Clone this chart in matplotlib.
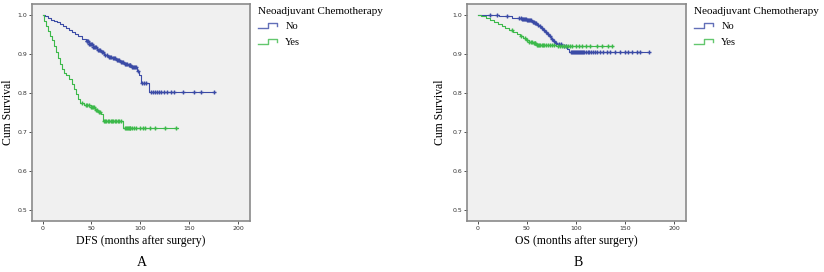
import numpy as np
import matplotlib.pyplot as plt
from matplotlib.lines import Line2D
from matplotlib.legend_handler import HandlerBase

# Kaplan-Meier step values
dfs_no_t = [0, 3, 6, 9, 12, 15, 18, 21, 24, 27, 30, 33, 36, 40, 44, 48, 52, 56, 60, 63,
            67, 71, 75, 79, 83, 87, 91, 97, 99, 101, 109, 176]
dfs_no_s = [1.0, 0.996, 0.992, 0.988, 0.985, 0.981, 0.976, 0.971, 0.966, 0.961, 0.956,
            0.951, 0.945, 0.938, 0.932, 0.925, 0.918, 0.911, 0.904, 0.897, 0.893, 0.889,
            0.884, 0.879, 0.875, 0.871, 0.867, 0.856, 0.845, 0.825, 0.802, 0.802]
dfs_no_cens = [45, 46, 47, 48, 49, 50, 51, 52, 53, 54, 55, 57, 58, 59, 61, 62, 64, 66, 68,
               69, 70, 72, 73, 74, 76, 77, 78, 80, 81, 82, 84, 85, 86, 88, 89, 90, 92, 93,
               94, 95, 96, 98, 102, 104, 106, 111, 113, 115, 117, 119, 121, 124, 127, 131,
               135, 144, 155, 162, 175]

dfs_yes_t = [0, 2, 4, 6, 8, 10, 12, 14, 16, 18, 20, 22, 24, 27, 30, 32, 34, 36, 38, 42,
             50, 54, 57, 60, 62, 82, 139]
dfs_yes_s = [1.0, 0.985, 0.972, 0.958, 0.946, 0.935, 0.921, 0.906, 0.890, 0.875, 0.862,
             0.851, 0.845, 0.836, 0.824, 0.810, 0.797, 0.785, 0.774, 0.768, 0.763, 0.757,
             0.751, 0.745, 0.729, 0.711, 0.711]
dfs_yes_cens = [40, 44, 46, 48, 50, 51, 52, 53, 55, 56, 58, 59, 63, 64, 65, 67, 68, 70, 71,
                72, 74, 75, 77, 78, 80, 84, 85, 86, 87, 88, 89, 90, 92, 94, 96, 100, 103,
                105, 110, 115, 125, 137]

os_no_t = [0, 22, 35, 45, 50, 55, 58, 61, 63, 65, 67, 69, 71, 73, 75, 77, 79, 81, 86, 91,
           93, 175]
os_no_s = [1.0, 0.996, 0.992, 0.989, 0.986, 0.983, 0.979, 0.975, 0.971, 0.966, 0.961,
           0.956, 0.951, 0.945, 0.939, 0.934, 0.929, 0.925, 0.920, 0.913, 0.905, 0.905]
os_no_cens = [13, 20, 30, 42, 44, 45, 46, 47, 48, 49, 50, 51, 52, 53, 54, 56, 57, 59, 60,
              62, 64, 66, 68, 70, 72, 74, 76, 78, 80, 83, 85, 88, 90, 95, 96, 97, 98, 99,
              100, 101, 102, 103, 104, 105, 106, 107, 108, 110, 112, 114, 116, 118, 120,
              122, 125, 128, 132, 135, 140, 145, 150, 153, 157, 162, 165, 175]

os_yes_t = [0, 4, 9, 13, 17, 21, 25, 28, 32, 36, 40, 43, 46, 49, 52, 56, 60, 65, 80, 137]
os_yes_s = [1.0, 0.997, 0.992, 0.988, 0.983, 0.978, 0.972, 0.966, 0.961, 0.956, 0.951,
            0.946, 0.940, 0.935, 0.931, 0.927, 0.924, 0.922, 0.920, 0.920]
os_yes_cens = [35, 44, 48, 50, 52, 54, 55, 57, 58, 59, 61, 62, 63, 64, 66, 67, 68, 70, 72,
               74, 76, 78, 82, 84, 86, 88, 90, 92, 94, 96, 100, 103, 106, 110, 115, 122,
               127, 133, 137]

groups = ['No', 'Yes']
blue = '#3b4ba6'
green = '#3cb94a'
serif = 'Liberation Serif'


class StepHandler(HandlerBase):
    # legend icon drawn as a little survival step
    def create_artists(self, legend, orig_handle, xd, yd, width, height, fontsize, trans):
        x = np.array([0, 0.45, 0.45, 0.9, 0.9]) * width - xd
        y = np.array([0.15, 0.15, 0.85, 0.85, 0.45]) * height - yd
        ln = Line2D(x, y, color=orig_handle.get_color(), lw=1.0, alpha=0.8,
                    transform=trans)
        return [ln]


def km_panel(ax, curves, xlabel, ylab_x):
    for (t, s, cens, col) in curves:
        ax.step(t, s, where='post', color=col, lw=0.8)
        idx = np.searchsorted(t, cens, side='right') - 1
        cy = np.array(s)[idx]
        ax.plot(cens, cy, '+', color=col, ms=3.4, mew=1.0)
    ax.set_facecolor('#f0f0f0')
    ax.set_xlim(-10.8, 212.3)
    ax.set_ylim(0.472, 1.028)
    ax.set_xticks([0, 50, 100, 150, 200])
    ax.set_yticks([0.5, 0.6, 0.7, 0.8, 0.9, 1.0])
    ax.set_yticklabels(['0.5', '0.6', '0.7', '0.8', '0.9', '1.0'])
    ax.tick_params(labelsize=4.5, length=2, width=0.6, pad=1.5, colors='#333333')
    for sp in ax.spines.values():
        sp.set_color('#8a8a8a')
        sp.set_linewidth(1.2)
    ax.set_xlabel(xlabel, family=serif, fontsize=8.5, labelpad=3)
    ax.set_ylabel('Cum Survival', family=serif, fontsize=8.5, va='center')
    ax.yaxis.set_label_coords(ylab_x, 0.5)
    handles = [Line2D([], [], color=blue), Line2D([], [], color=green)]
    leg = ax.legend(handles, groups, title='Neoadjuvant Chemotherapy', loc='upper left',
                    bbox_to_anchor=(0.995, 1.03), frameon=False,
                    handler_map={Line2D: StepHandler()},
                    prop={'family': serif, 'size': 7.5}, handlelength=2.0,
                    handletextpad=0.6, labelspacing=0.6)
    leg.get_title().set_fontfamily(serif)
    leg.get_title().set_fontsize(8)
    leg._legend_box.align = 'left'


fig = plt.figure(figsize=(8.24, 2.72), dpi=100)
ax1 = fig.add_axes([0.0388, 0.1875, 0.2646, 0.7978])
ax2 = fig.add_axes([0.5667, 0.1875, 0.2658, 0.7978])

km_panel(ax1, [(dfs_no_t, dfs_no_s, dfs_no_cens, blue),
               (dfs_yes_t, dfs_yes_s, dfs_yes_cens, green)],
         'DFS (months after surgery)', -0.11)
km_panel(ax2, [(os_no_t, os_no_s, os_no_cens, blue),
               (os_yes_t, os_yes_s, os_yes_cens, green)],
         'OS (months after surgery)', -0.125)

fig.text(142 / 824, 1 - 263 / 272, 'A', ha='center', va='center', family=serif, fontsize=10)
fig.text(578 / 824, 1 - 263 / 272, 'B', ha='center', va='center', family=serif, fontsize=10)

fig.savefig('out.png', dpi=100)
